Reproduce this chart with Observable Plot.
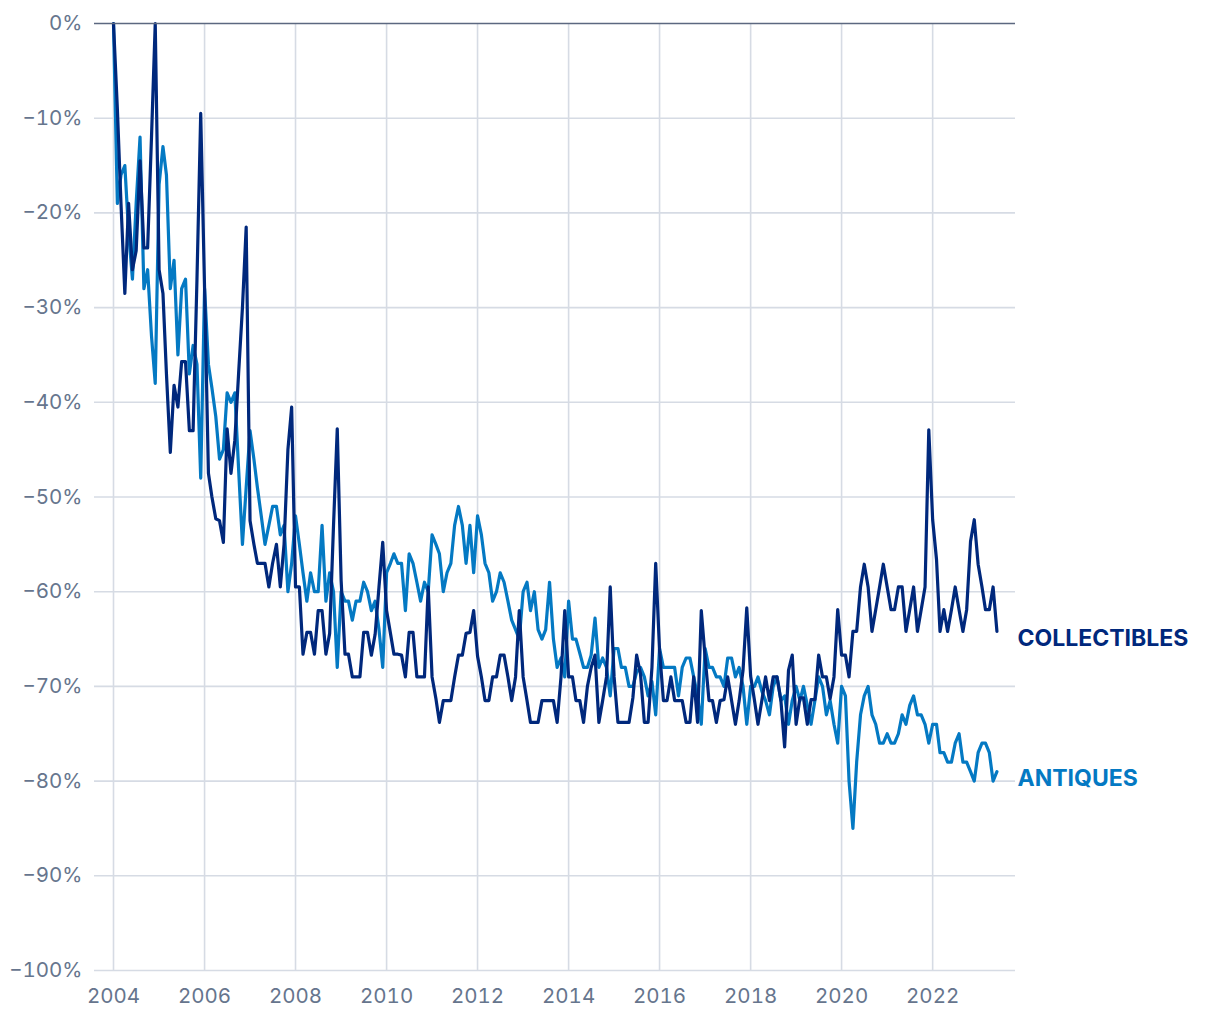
<!DOCTYPE html>
<html>
<head>
<meta charset="utf-8">
<script src="https://cdn.jsdelivr.net/npm/d3@7"></script>
<script src="https://cdn.jsdelivr.net/npm/@observablehq/plot@0.6"></script>
<style>
  html, body { margin: 0; padding: 0; background: #ffffff; }
  #chart { width: 1220px; height: 1020px; }
</style>
</head>
<body>
<div id="chart"></div>
<script>
// Monthly series, January 2004 onward (change vs. January 2004, %)
const startYear = 2004;
const seriesNames = ["COLLECTIBLES", "ANTIQUES"];

const collectibles = [
  0, -9, -19, -28.5, -19, -26, -24, -14.5, -23.7, -23.7, -12, 0,
  -26, -28.5, -37, -45.3, -38.2, -40.5, -35.7, -35.7, -43, -43, -27, -9.5,
  -28, -47.5, -50, -52.3, -52.5, -54.8, -42.8, -47.5, -44, -37, -30, -21.5,
  -52.5, -55, -57, -57, -57, -59.5, -57, -55, -59.5, -55, -45, -40.5,
  -59.5, -59.5, -66.6, -64.3, -64.3, -66.6, -62, -62, -66.6, -64.4, -53, -42.8,
  -58.8, -66.6, -66.6, -69, -69, -69, -64.3, -64.3, -66.7, -64.5, -59.5, -54.8,
  -62, -64.4, -66.6, -66.6, -66.7, -69, -64.3, -64.3, -69, -69, -69, -59.5,
  -69, -71.3, -73.8, -71.5, -71.5, -71.5, -69, -66.7, -66.7, -64.4, -64.3, -62,
  -66.8, -69, -71.5, -71.5, -69, -69, -66.7, -66.7, -69, -71.5, -69, -62,
  -69, -71.5, -73.8, -73.8, -73.8, -71.5, -71.5, -71.5, -71.5, -73.8, -69, -62,
  -69, -69, -71.5, -71.5, -73.8, -70, -68, -66.7, -73.8, -71.5, -69, -59.5,
  -69, -73.8, -73.8, -73.8, -73.8, -71.2, -66.7, -68.7, -73.8, -73.8, -68, -57,
  -66.2, -71.5, -71.5, -69, -71.5, -71.5, -71.5, -73.8, -73.8, -69, -73.8, -62,
  -67, -71.5, -71.5, -73.8, -71.5, -71.4, -69, -71.5, -74, -71.5, -68.3, -61.7,
  -68.9, -71.5, -74, -71.5, -69, -71.5, -69, -69, -71.5, -76.4, -68.3, -66.7,
  -74, -71.2, -71.2, -74, -71.4, -71.4, -66.7, -69, -69, -71.3, -69, -61.9,
  -66.7, -66.7, -69, -64.2, -64.2, -59.5, -57.1, -59.5, -64.2, -61.9, -59.5, -57.1,
  -59.5, -61.9, -61.9, -59.5, -59.5, -64.2, -61.9, -59.5, -64.2, -61.9, -59.5, -42.9,
  -52.4, -56.6, -64.2, -61.9, -64.2, -61.9, -59.5, -61.9, -64.2, -61.9, -54.7, -52.4,
  -57.1, -59.5, -61.9, -61.9, -59.5, -64.2
];

const antiques = [
  0, -19, -16, -15, -22, -27, -19, -12, -28, -26, -33, -38,
  -17, -13, -16, -28, -25, -35, -28, -27, -37, -34, -36, -48,
  -28, -36, -38.5, -41.5, -46, -45, -39, -40, -39, -47, -55, -49,
  -43, -46, -49, -52, -55, -53, -51, -51, -54, -53, -60, -57,
  -52, -55, -58, -61, -58, -60, -60, -53, -61, -58, -60, -68,
  -60, -61, -61, -63, -61, -61, -59, -60, -62, -61, -64, -68,
  -58, -57, -56, -57, -57, -62, -56, -57, -59, -61, -59, -60,
  -54, -55, -56, -60, -58, -57, -53, -51, -53, -57, -53, -58,
  -52, -54, -57, -58, -61, -60, -58, -59, -61, -63, -64, -65,
  -60, -59, -62, -60, -64, -65, -64, -59, -65, -68, -67, -69,
  -61, -65, -65, -66.5, -68, -68, -66.7, -62.8, -68, -67, -68, -71,
  -66, -66, -68, -68, -70, -70, -68.5, -68, -69, -71, -69.5, -73,
  -66, -68, -68, -68, -68, -71, -68, -67, -67, -69, -71, -74,
  -66, -68, -68, -69, -69, -70, -67, -67, -69, -68, -70, -74,
  -70, -70, -69, -70.5, -71.5, -73, -70, -69, -71.5, -71, -74, -71.5,
  -70, -71.5, -70, -72, -74, -71.5, -69, -70, -73, -71.5, -74, -76,
  -70, -71, -80, -85, -78, -73, -71, -70, -73, -74, -76, -76,
  -75, -76, -76, -75, -73, -74, -72, -71, -73, -73, -74, -76,
  -74, -74, -77, -77, -78, -78, -76, -75, -78, -78, -79, -80,
  -77, -76, -76, -77, -80, -79
];

const xTickYears = [2004, 2006, 2008, 2010, 2012, 2014, 2016, 2018, 2020, 2022];
const yTicks = [0, -10, -20, -30, -40, -50, -60, -70, -80, -90, -100];
const colors = { COLLECTIBLES: "#00287c", ANTIQUES: "#0479c3" };

// Build table for the library
const monthDate = (i) => new Date(Date.UTC(startYear, i, 1));
const rows = [
  ...antiques.map((v, i) => ({ series: "ANTIQUES", date: monthDate(i), value: v })),
  ...collectibles.map((v, i) => ({ series: "COLLECTIBLES", date: monthDate(i), value: v }))
];
const xStart = new Date(Date.UTC(2004, 0, 1));
const xEnd = new Date(Date.UTC(2023, 9, 28));
const xTicks = xTickYears.map((y) => new Date(Date.UTC(y, 0, 1)));
const endLabels = [
  { series: "COLLECTIBLES", date: xEnd, value: collectibles[collectibles.length - 1] },
  { series: "ANTIQUES", date: xEnd, value: antiques[antiques.length - 1] }
];
const fmtY = (d) => (d === 0 ? "0%" : "\u2212" + Math.abs(d) + "%");

const chart = Plot.plot({
  width: 1220,
  height: 1020,
  marginLeft: 113,
  marginRight: 205,
  marginTop: 23,
  marginBottom: 50,
  style: { fontFamily: "Inter, 'Noto Sans', sans-serif", fontSize: "20px", color: "#66758d", background: "#ffffff", overflow: "visible" },
  x: { type: "utc", domain: [xStart, xEnd], label: null },
  y: { domain: [-100, 0], label: null },
  marks: [
    Plot.gridX(xTicks, { stroke: "#d6dbe4", strokeOpacity: 1, strokeWidth: 1.6 }),
    Plot.ruleY(yTicks.filter((d) => d !== 0), { stroke: "#d6dbe4", strokeWidth: 1.6, insetLeft: -19 }),
    Plot.axisX(xTicks, { tickSize: 0, tickPadding: 18, tickFormat: (d) => String(d.getUTCFullYear()), fill: "#66758d", fontSize: 20.5 }),
    Plot.axisY(yTicks, { tickSize: 0, tickPadding: 31, tickFormat: fmtY, fill: "#66758d", fontSize: 20.5 }),
    Plot.line(rows, {
      x: "date", y: "value", z: "series",
      stroke: (d) => colors[d.series],
      strokeWidth: 3.2, strokeLinejoin: "round", strokeLinecap: "round"
    }),
    Plot.ruleY([0], { stroke: "#5c6880", strokeWidth: 1.6, insetLeft: -19 }),
    Plot.text(endLabels, {
      x: "date", y: "value", text: "series",
      fill: (d) => colors[d.series],
      textAnchor: "start", dx: 2, dy: 7,
      fontWeight: 700, fontSize: 23
    })
  ]
});
document.getElementById("chart").appendChild(chart);
</script>
</body>
</html>
